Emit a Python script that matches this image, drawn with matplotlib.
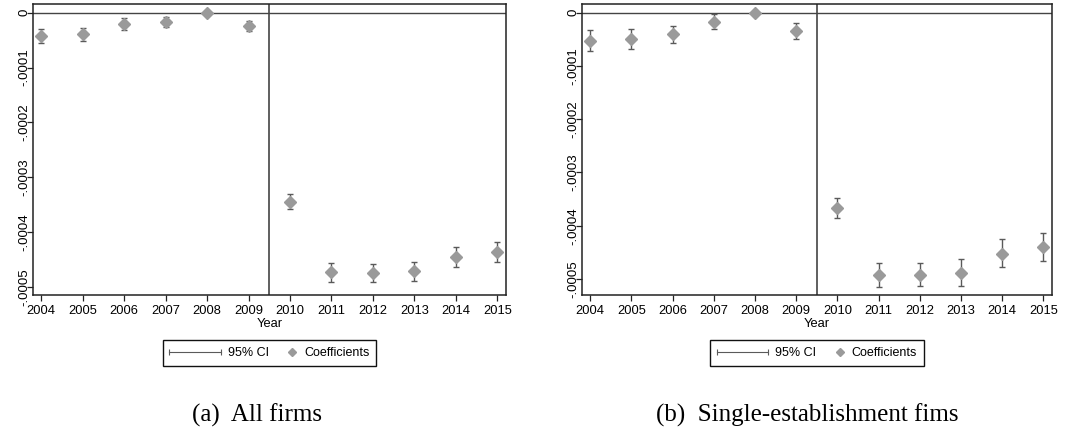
import matplotlib
matplotlib.use("Agg")
import matplotlib.pyplot as plt
from matplotlib.lines import Line2D
from matplotlib.legend_handler import HandlerLine2D
import numpy as np

plt.rcParams['font.family'] = ['Liberation Sans', 'DejaVu Sans']

# event-study coefficients, 2008 is the omitted base year
years = [2004, 2005, 2006, 2007, 2008, 2009, 2010, 2011, 2012, 2013, 2014, 2015]

all_coef = [-0.0000425, -0.0000395, -0.0000207, -0.0000176, 0, -0.0000243,
            -0.0003445, -0.0004733, -0.0004745, -0.0004710, -0.0004447, -0.0004356]
all_lo = [-0.0000559, -0.0000510, -0.0000316, -0.0000267, 0, -0.0000340,
          -0.0003585, -0.0004900, -0.0004915, -0.0004885, -0.0004630, -0.0004538]
all_hi = [-0.0000298, -0.0000273, -0.0000103, -0.0000085, 0, -0.0000146,
          -0.0003310, -0.0004570, -0.0004587, -0.0004545, -0.0004277, -0.0004186]

single_coef = [-0.0000525, -0.0000500, -0.0000406, -0.0000169, 0, -0.0000350,
               -0.0003663, -0.0004925, -0.0004919, -0.0004881, -0.0004525, -0.0004400]
single_lo = [-0.0000725, -0.0000688, -0.0000569, -0.0000313, 0, -0.0000500,
             -0.0003850, -0.0005144, -0.0005138, -0.0005125, -0.0004775, -0.0004656]
single_hi = [-0.0000325, -0.0000313, -0.0000244, -0.0000031, 0, -0.0000200,
             -0.0003475, -0.0004706, -0.0004700, -0.0004631, -0.0004256, -0.0004138]

ytick_vals = [0, -0.0001, -0.0002, -0.0003, -0.0004, -0.0005]
ytick_labels = ['0', '-.0001', '-.0002', '-.0003', '-.0004', '-.0005']

captions = ['(a)  All firms', '(b)  Single-establishment fims']

marker_color = '#9a9a9a'
ci_color = '#5a5a5a'
line_color = '#444444'


class RightMarkerHandler(HandlerLine2D):
    # single marker placed near the right end of the handle box
    def get_xdata(self, legend, xdescent, ydescent, width, height, fontsize):
        m = -xdescent + width - 0.4 * fontsize
        return [m - 0.5, m + 0.5], [m]


def draw_panel(ax, coef, lo, hi, ylim):
    coef = np.array(coef)
    err = np.vstack([coef - np.array(lo), np.array(hi) - coef])
    ax.axhline(0, color=line_color, lw=1.0, zorder=1)
    ax.axvline(2009.5, color=line_color, lw=1.2, zorder=1)
    ax.errorbar(years, coef, yerr=err, fmt='none', ecolor=ci_color,
                elinewidth=1.0, capsize=2.3, capthick=1.0, zorder=2)
    ax.plot(years, coef, 'D', color=marker_color, ms=5.8, mec=marker_color, zorder=3)

    ax.set_xlim(2003.8, 2015.21)
    ax.set_ylim(*ylim)
    ax.set_xticks(years)
    ax.set_xticklabels([str(y) for y in years])
    ax.set_yticks(ytick_vals)
    ax.set_yticklabels(ytick_labels)
    ax.tick_params(axis='y', labelrotation=90, length=4, width=0.9, pad=-2,
                   labelsize=9.5, color='#222222')
    ax.tick_params(axis='x', length=4, width=0.9, pad=3, labelsize=9.3, color='#222222')
    for lbl in ax.get_yticklabels():
        lbl.set_va('center')
    ax.set_xlabel('Year', fontsize=9.3, labelpad=1)
    for s in ax.spines.values():
        s.set_linewidth(1.1)
        s.set_color('#222222')

    ci_handle = Line2D([], [], color=ci_color, lw=0.8, marker='|', ms=4.5, mew=0.8)
    coef_handle = Line2D([], [], color=marker_color, ls='none', marker='D', ms=4.2)
    leg = ax.legend([ci_handle, coef_handle], ['95% CI', 'Coefficients'],
                    handler_map={ci_handle: HandlerLine2D(numpoints=2, marker_pad=0),
                                 coef_handle: RightMarkerHandler(numpoints=1)},
                    loc='upper center', bbox_to_anchor=(0.5, -0.155), borderaxespad=0,
                    ncol=2, fontsize=9, frameon=True, fancybox=False, framealpha=1,
                    edgecolor='#111111', handlelength=4.1, handletextpad=0.55,
                    columnspacing=-1.8, borderpad=0.55)
    leg.get_frame().set_linewidth(1.0)


fig = plt.figure(figsize=(10.83, 4.34), dpi=100)
ax1 = fig.add_axes([33 / 1083, 139 / 434, 473 / 1083, 291 / 434])
ax2 = fig.add_axes([582 / 1083, 139 / 434, 470 / 1083, 291 / 434])

draw_panel(ax1, all_coef, all_lo, all_hi, (-0.0005146, 0.0000158))
draw_panel(ax2, single_coef, single_lo, single_hi, (-0.00053, 0.0000163))

fig.text(257 / 1083, 1 - 415 / 434, captions[0], ha='center', va='center',
         family='Liberation Serif', fontsize=18)
fig.text(807 / 1083, 1 - 415 / 434, captions[1], ha='center', va='center',
         family='Liberation Serif', fontsize=18)

fig.savefig('out.png', dpi=100)
